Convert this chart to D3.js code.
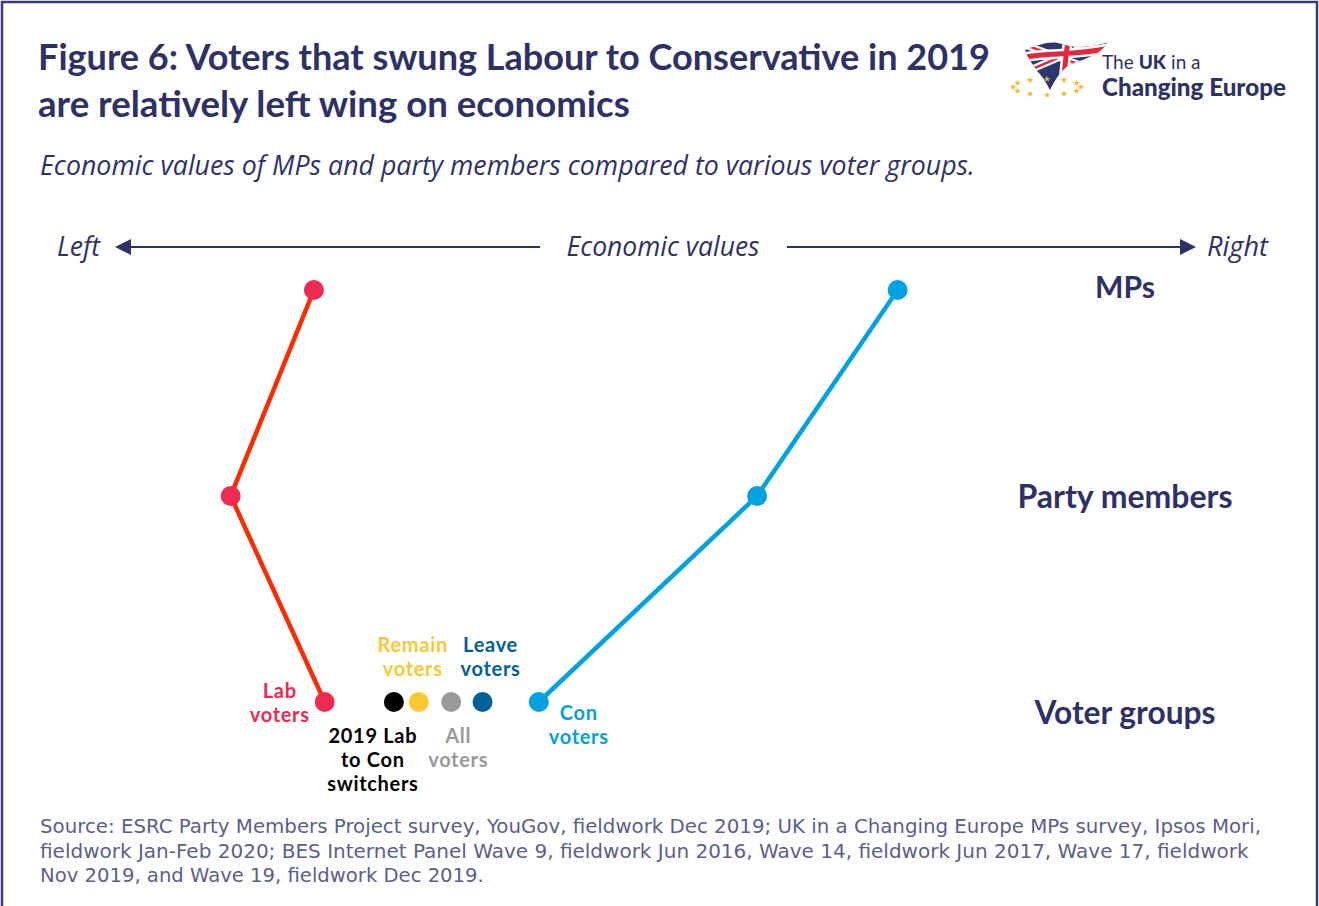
<!DOCTYPE html>
<html>
<head>
<meta charset="utf-8">
<script src="https://cdn.jsdelivr.net/npm/d3@7"></script>
<style>
  html, body { margin: 0; padding: 0; background: #fff; }
  svg { display: block; }
</style>
</head>
<body>
<div id="chart"></div>
<script>
// rows on the vertical, economic values (0 = far left, 100 = far right) on the horizontal
const rows = ['MPs', 'Party members', 'Voter groups'];
const labValues = [18.4, 10.7, 19.4];
const conValues = [72.4, 59.4, 39.2];

const voterGroups = ['2019 Lab to Con switchers', 'Remain voters', 'All voters', 'Leave voters'];
const voterGroupValues = [25.8, 28.1, 31.1, 34.0];

const titleLines = ['Figure 6: Voters that swung Labour to Conservative in 2019', 'are relatively left wing on economics'];
const subtitle = 'Economic values of MPs and party members compared to various voter groups.';
const sourceLines = [
	'Source: ESRC Party Members Project survey, YouGov, fieldwork Dec 2019; UK in a Changing Europe MPs survey, Ipsos Mori,',
	'fieldwork Jan-Feb 2020; BES Internet Panel Wave 9, fieldwork Jun 2016, Wave 14, fieldwork Jun 2017, Wave 17, fieldwork',
	'Nov 2019, and Wave 19, fieldwork Dec 2019.'
];

const width = 1319, height = 906;
const navy = '#2e3168';
const font = 'Lato, "Open Sans", sans-serif';
const italicFont = '"Open Sans", sans-serif';

const svg = d3.select('#chart').append('svg')
	.attr('width', width)
	.attr('height', height);

svg.append('rect')
	.attr('x', 2).attr('y', 2)
	.attr('width', width - 4).attr('height', height + 10)
	.attr('fill', '#fff')
	.attr('stroke', '#3b3a7e')
	.attr('stroke-width', 2.5);

// shrink/grow a text's font-size so it spans the wanted width
function fitWidth(sel, target) {
	sel.each(function() {
		let size = parseFloat(d3.select(this).style('font-size'));
		let w = this.getComputedTextLength();
		d3.select(this).style('font-size', (size * target / w).toFixed(2) + 'px');
	});
}

// titles
const titleWidths = [952, 592];
titleLines.forEach((t, i) => {
	svg.append('text')
		.attr('x', 38).attr('y', 70 + i * 47)
		.style('font-family', font).style('font-weight', 700).style('font-size', '33px')
		.attr('fill', navy)
		.text(t)
		.call(fitWidth, titleWidths[i]);
});

svg.append('text')
	.attr('x', 40).attr('y', 175)
	.style('font-family', italicFont).style('font-style', 'italic').style('font-size', '23px')
	.attr('fill', navy)
	.text(subtitle)
	.call(fitWidth, 935);

// scales
const x = d3.scaleLinear().domain([0, 100]).range([115, 1196]);
const y = d3.scalePoint().domain(rows).range([290, 702]);

// axis arrow
const axisY = 247;
const arrowGap = [540, 787];
svg.append('line')
	.attr('x1', x(0) + 8).attr('x2', arrowGap[0]).attr('y1', axisY).attr('y2', axisY)
	.attr('stroke', navy).attr('stroke-width', 2);
svg.append('line')
	.attr('x1', arrowGap[1]).attr('x2', x(100) - 8).attr('y1', axisY).attr('y2', axisY)
	.attr('stroke', navy).attr('stroke-width', 2);
svg.append('path')
	.attr('d', `M${x(0)},${axisY} l16,-8 v16 z`)
	.attr('fill', navy);
svg.append('path')
	.attr('d', `M${x(100)},${axisY} l-16,-8 v16 z`)
	.attr('fill', navy);

const axisText = svg.append('g')
	.style('font-family', italicFont).style('font-style', 'italic').style('font-size', '25px')
	.attr('fill', navy);
axisText.append('text').attr('x', 57).attr('y', axisY + 9).text('Left').call(fitWidth, 43);
axisText.append('text').attr('x', 663).attr('y', axisY + 9).attr('text-anchor', 'middle').text('Economic values').call(fitWidth, 193);
axisText.append('text').attr('x', 1207).attr('y', axisY + 9).text('Right').call(fitWidth, 61);

// row labels
const rowLabelWidths = [60, 215, 181];
svg.append('g').selectAll('text')
	.data(rows)
	.join('text')
	.attr('x', 1125)
	.attr('y', (d, i) => y(d) + [8, 12, 22][i])
	.attr('text-anchor', 'middle')
	.style('font-family', font).style('font-weight', 700).style('font-size', '28px')
	.attr('fill', navy)
	.text(d => d)
	.each(function(d, i) { d3.select(this).call(fitWidth, rowLabelWidths[i]); });

// party lines
const line = d3.line()
	.x(d => x(d.value))
	.y(d => y(d.row));

const parties = [
	{ name: 'Lab', values: labValues, lineColor: '#ff2a00', dotColor: '#ee2a50' },
	{ name: 'Con', values: conValues, lineColor: '#00a3e0', dotColor: '#00a3e0' }
];

parties.forEach(p => {
	let pts = rows.map((r, i) => ({ row: r, value: p.values[i] }));
	svg.append('path')
		.datum(pts)
		.attr('d', line)
		.attr('fill', 'none')
		.attr('stroke', p.lineColor)
		.attr('stroke-width', 4.5);
	svg.append('g').selectAll('circle')
		.data(pts)
		.join('circle')
		.attr('cx', d => x(d.value))
		.attr('cy', d => y(d.row))
		.attr('r', 10)
		.attr('fill', p.dotColor);
});

// other voter groups
const groupColors = ['#000000', '#fdc82f', '#999999', '#00609c'];
svg.append('g').selectAll('circle')
	.data(voterGroups)
	.join('circle')
	.attr('cx', (d, i) => x(voterGroupValues[i]))
	.attr('cy', y('Voter groups'))
	.attr('r', 10)
	.attr('fill', (d, i) => groupColors[i]);

// voter group labels, one text per line
const vy = y('Voter groups');
const lead = 24;
const groupLabels = [
	{ lines: ['Lab', 'voters'], value: labValues[2], dx: -45, dy: -4, color: '#ee2a50' },
	{ lines: ['Remain', 'voters'], value: voterGroupValues[1], dx: -6, dy: -50, color: '#fdc82f' },
	{ lines: ['Leave', 'voters'], value: voterGroupValues[3], dx: 8, dy: -50, color: '#00609c' },
	{ lines: ['2019 Lab', 'to Con', 'switchers'], value: voterGroupValues[0], dx: -21, dy: 41, color: '#000000' },
	{ lines: ['All', 'voters'], value: voterGroupValues[2], dx: 7, dy: 41, color: '#999999' },
	{ lines: ['Con', 'voters'], value: conValues[2], dx: 40, dy: 18, color: '#00a3e0' }
];

groupLabels.forEach(g => {
	g.lines.forEach((l, i) => {
		svg.append('text')
			.attr('x', x(g.value) + g.dx)
			.attr('y', vy + g.dy + i * lead)
			.attr('text-anchor', 'middle')
			.style('font-family', font).style('font-weight', 700).style('font-size', '20px')
			.style('letter-spacing', '0.7px')
			.attr('fill', g.color)
			.text(l);
	});
});

// source
sourceLines.forEach((s, i) => {
	svg.append('text')
		.attr('x', 40).attr('y', 833 + i * 24.5)
		.style('font-family', '"DejaVu Sans", Verdana, sans-serif').style('font-size', '17px')
		.attr('fill', '#5a5f8c')
		.text(s)
		.call(fitWidth, [1222, 1209, 444][i]);
});

// logo
const logo = svg.append('g').attr('class', 'logo');
const flagShape = 'M1025,50 C1040,44 1052,40 1062,44 C1075,49 1090,47 1107,43 C1102,52 1090,58 1076,62 C1064,66 1058,74 1050,90 C1046,82 1042,76 1038,72 C1032,64 1028,58 1025,50 Z';
logo.append('clipPath').attr('id', 'flag-clip')
	.append('path').attr('d', flagShape);
const flag = logo.append('g').attr('clip-path', 'url(#flag-clip)');
flag.append('rect').attr('x', 1020).attr('y', 38).attr('width', 92).attr('height', 56).attr('fill', '#2c3670');
[[1025, 45, 1100, 72], [1025, 72, 1100, 40]].forEach(c => {
	flag.append('line').attr('x1', c[0]).attr('y1', c[1]).attr('x2', c[2]).attr('y2', c[3])
		.attr('stroke', '#fff').attr('stroke-width', 7);
	flag.append('line').attr('x1', c[0]).attr('y1', c[1]).attr('x2', c[2]).attr('y2', c[3])
		.attr('stroke', '#e4283c').attr('stroke-width', 2.5);
});
flag.append('path').attr('d', 'M1068,38 L1062,94 M1020,58 C1045,52 1075,56 1110,48')
	.attr('fill', 'none').attr('stroke', '#fff').attr('stroke-width', 10);
flag.append('path').attr('d', 'M1068,38 L1062,94 M1020,58 C1045,52 1075,56 1110,48')
	.attr('fill', 'none').attr('stroke', '#e4283c').attr('stroke-width', 5);

const starCount = 12;
logo.append('g').selectAll('path')
	.data(d3.range(starCount))
	.join('path')
	.attr('d', d3.symbol(d3.symbolStar, 14))
	.attr('transform', i => {
		let a = i / starCount * 2 * Math.PI;
		return `translate(${1047 + 34 * Math.cos(a)},${87 + 8 * Math.sin(a)})`;
	})
	.attr('fill', '#f7b52c');

// "The UK in a" as separate words laid out one after another
const logoWords = [['The', 400], ['UK', 900], ['in a', 400]];
let wx = 1102;
logoWords.forEach(w => {
	let t = logo.append('text').attr('x', wx).attr('y', 69)
		.style('font-family', 'Lato, sans-serif').style('font-weight', w[1]).style('font-size', '19px')
		.attr('fill', navy)
		.text(w[0]);
	wx += t.node().getComputedTextLength() + 5;
});
logo.append('text').attr('x', 1102).attr('y', 96)
	.style('font-family', 'Lato, sans-serif').style('font-weight', 900).style('font-size', '20px')
	.attr('fill', navy)
	.text('Changing Europe')
	.call(fitWidth, 184);
</script>
</body>
</html>
